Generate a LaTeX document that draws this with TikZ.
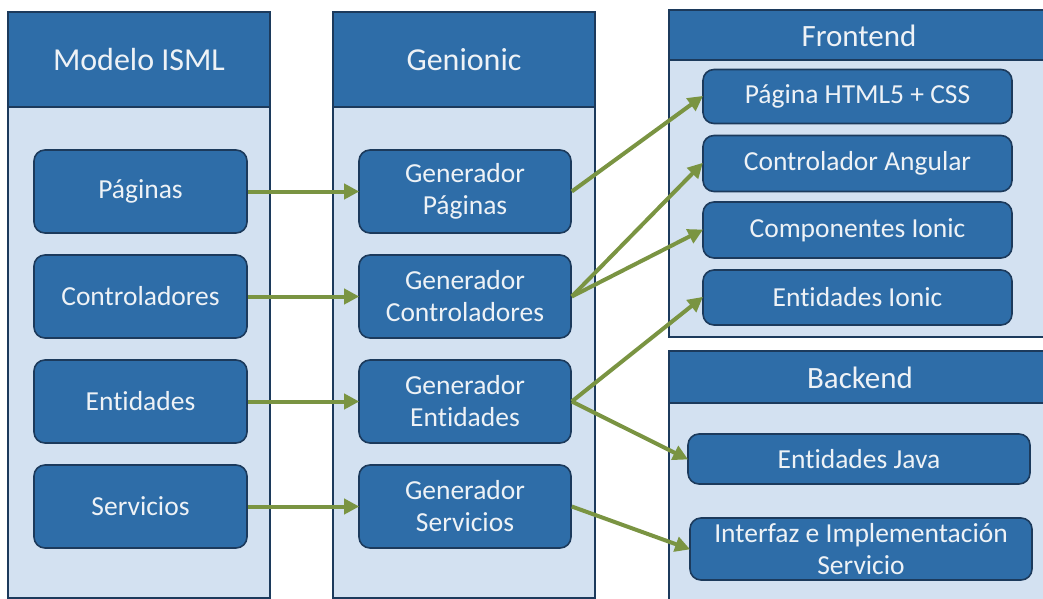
\documentclass[tikz,border=0pt]{standalone}
\usepackage{fontspec}
\setmainfont{Carlito}[Ligatures=NoCommon]
\usetikzlibrary{arrows.meta}
\definecolor{hdrblue}{HTML}{2E6DA8}
\definecolor{edgeblue}{HTML}{1C3A5C}
\definecolor{paleblue}{HTML}{D3E1F1}
\definecolor{olive}{HTML}{7A9442}
\definecolor{textwhite}{HTML}{EEF2F6}
\tikzset{
  panelbody/.style={draw=edgeblue, line width=1.6pt, fill=paleblue},
  panelhead/.style={draw=edgeblue, line width=1.6pt, fill=hdrblue},
  headtext/.style={text=textwhite, font=\fontsize{32}{36}\selectfont},
  subhead/.style={text=textwhite, font=\fontsize{31}{35}\selectfont},
  box/.style={draw=edgeblue, line width=1.6pt, fill=hdrblue, rounded corners=11pt,
    text=textwhite, align=center, inner sep=0pt,
    font=\fontsize{27.5}{32}\selectfont},
  flow/.style={draw=olive, line width=4pt,
    -{Triangle[length=15pt,width=15pt]}, shorten >=-1pt}
}
\begin{document}
\begin{tikzpicture}[x=1pt,y=-1pt]
\useasboundingbox (0,0) rectangle (1043,599);
\begin{scope}
\clip (0,0) rectangle (1043,599);
% column panels
\draw[panelbody] (8,12) rectangle (270,598);
\draw[panelhead] (8,12) rectangle (270,107);
\node[headtext] (modelo) at (139,60) {Modelo ISML};
\draw[panelbody] (333,12) rectangle (595,598);
\draw[panelhead] (333,12) rectangle (595,107);
\node[headtext] (genionic) at (464,60) {Genionic};
\draw[panelbody] (669,10) rectangle (1050,337);
\draw[panelhead] (669,10) rectangle (1050,60);
\node[subhead] (frontend) at (859,36) {Frontend};
\draw[panelbody] (669,351) rectangle (1050,610);
\draw[panelhead] (669,351) rectangle (1050,403);
\node[subhead] (backend) at (860,378) {Backend};
\end{scope}
% ISML model elements
\node[box, minimum width=213pt, minimum height=83pt] (pag) at (140.5,191.5) {Páginas};
\node[box, minimum width=213pt, minimum height=83pt] (ctl) at (140.5,296.5) {Controladores};
\node[box, minimum width=213pt, minimum height=83pt] (ent) at (140.5,401.5) {Entidades};
\node[box, minimum width=213pt, minimum height=83pt] (srv) at (140.5,506.5) {Servicios};
% generators
\node[box, minimum width=212pt, minimum height=83pt] (gpag) at (465,191.5) {Generador\\Páginas};
\node[box, minimum width=212pt, minimum height=83pt] (gctl) at (465,296.5) {Generador\\Controladores};
\node[box, minimum width=212pt, minimum height=83pt] (gent) at (465,401.5) {Generador\\Entidades};
\node[box, minimum width=212pt, minimum height=83pt] (gsrv) at (465,506.5) {Generador\\Servicios};
% frontend artefacts
\node[box, minimum width=309pt, minimum height=54pt] (html) at (857.5,96.5) {Página HTML5 + CSS};
\node[box, minimum width=309pt, minimum height=56pt] (ang) at (857.5,163.5) {Controlador Angular};
\node[box, minimum width=309pt, minimum height=56pt] (comp) at (857.5,230) {Componentes Ionic};
\node[box, minimum width=309pt, minimum height=55pt] (eion) at (857.5,297.5) {Entidades Ionic};
% backend artefacts
\node[box, minimum width=342pt, minimum height=50pt] (java) at (859,459) {Entidades Java};
\node[box, minimum width=342pt, minimum height=62pt] (impl) at (861,549) {Interfaz e Implementación\\Servicio};
% flows
\draw[flow] (pag.east) -- (gpag.west);
\draw[flow] (ctl.east) -- (gctl.west);
\draw[flow] (ent.east) -- (gent.west);
\draw[flow] (srv.east) -- (gsrv.west);
\draw[flow] (gpag.east) -- (html.west);
\draw[flow] (gctl.east) -- (ang.west);
\draw[flow] (gctl.east) -- (comp.west);
\draw[flow] (gent.east) -- (eion.west);
\draw[flow] (gent.east) -- (java.west);
\draw[flow] (gsrv.east) -- (impl.west);
\end{tikzpicture}
\end{document}
